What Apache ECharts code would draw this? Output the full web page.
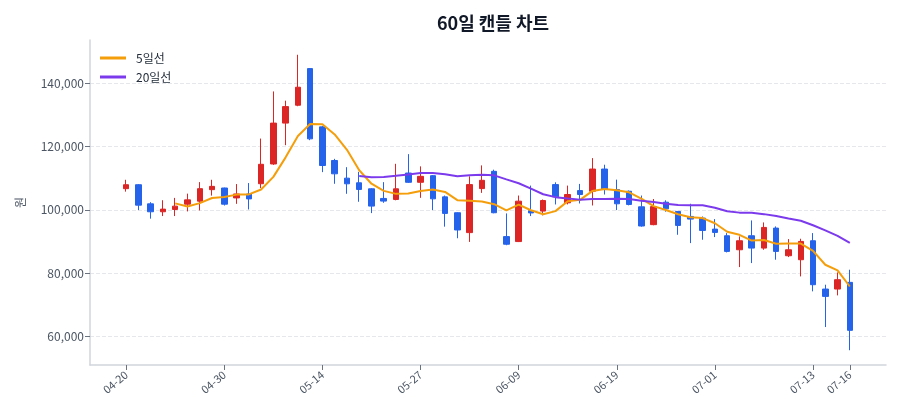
<!DOCTYPE html>
<html>
<head>
<meta charset="utf-8">
<script src="https://cdn.jsdelivr.net/npm/echarts@6/dist/echarts.min.js"></script>
<style>
  html, body { margin: 0; background: #fff; }
  #chart { width: 900px; height: 420px; }
</style>
</head>
<body>
<div id="chart"></div>
<script>
const dates = ['04-20','04-21','04-22','04-23','04-24','04-27','04-28','04-29','04-30',
  '05-04','05-06','05-07','05-08','05-11','05-12','05-13','05-14','05-15','05-18','05-19',
  '05-20','05-21','05-22','05-26','05-27','05-28','05-29','06-01','06-02','06-04','06-05',
  '06-08','06-09','06-10','06-11','06-12','06-15','06-16','06-17','06-18','06-19','06-22',
  '06-23','06-24','06-25','06-26','06-29','06-30','07-01','07-02','07-03','07-06','07-07',
  '07-08','07-09','07-10','07-13','07-14','07-15','07-16'];

const openP = [106670,107920,101880,99370,100100,101770,102710,106360,106880,103750,
  105000,108230,114480,127400,133050,144630,126210,115580,110000,108530,
  106630,103580,103260,111620,108690,110780,104080,99060,92780,106700,
  112150,91520,89950,99700,99580,107960,102200,106070,105860,112880,
  106390,105860,100940,95300,102400,99470,97890,97370,93890,91790,
  87360,91790,87890,94210,85470,84210,90210,74940,74940,77050];
const closeP = [107920,101460,99370,100210,101150,103130,106670,107400,101770,105000,
  103440,114380,127400,132610,138740,122420,114000,111370,108210,106420,
  101160,102740,106630,108690,110570,103460,98850,93610,107960,109320,
  99060,89110,102720,99000,102930,104080,104820,104820,112880,106390,
  101890,101680,94870,101000,100300,95050,97050,93470,92840,86840,
  90210,87890,94420,86840,87360,90000,76310,72620,77890,61890];
const lowP = [105730,99900,97190,98020,98020,99480,99790,104480,101350,101880,
  100100,106880,114200,120420,132740,122000,111900,108210,105050,102530,
  98950,102210,103000,108500,103770,99900,94660,91000,89840,105340,
  98900,88800,89800,98010,98220,101680,101700,101990,101360,104820,
  99900,101400,94660,95100,99400,92100,89470,90520,91370,86520,
  81890,83150,87360,84210,85050,78940,74210,62930,72940,55600];
const highP = [109480,108100,102400,103020,103750,105100,108750,109480,107000,108130,
  108440,122510,137410,134490,149000,144800,126500,116100,113470,112000,
  106800,108740,114530,117590,113720,111000,104500,99200,110570,114030,
  112670,98850,104500,107640,103250,108690,107640,108170,116330,114240,
  109530,106100,104500,103400,103000,99600,101900,97890,97050,92630,
  91580,96630,96000,94740,90730,90840,92630,76310,80200,81050];

const labelIdx = [0, 8, 16, 24, 32, 40, 48, 56, 59];
const yTicks = [60000, 80000, 100000, 120000, 140000];

// 이동평균
function movingAvg(n) {
  const out = [];
  for (let i = n - 1; i < closeP.length; i++) {
    let s = 0;
    for (let j = i - n + 1; j <= i; j++) s += closeP[j];
    out.push([i, s / n]);
  }
  return out;
}

const candles = dates.map((d, i) => [i, openP[i], closeP[i], lowP[i], highP[i]]);
const yLo = Math.min(...lowP), yHi = Math.max(...highP);
const yPad = (yHi - yLo) * 0.05;
const xPad = (dates.length - 1) * 0.05;

const font = "'Noto Sans CJK KR', 'Noto Sans', sans-serif";

const chart = echarts.init(document.getElementById('chart'));
chart.setOption({
  animation: false,
  textStyle: { fontFamily: font },
  title: {
    text: '60일 캔들 차트',
    left: 488,
    textAlign: 'center',
    top: 9,
    textStyle: { fontSize: 18, fontWeight: 'bold', color: '#111827', fontFamily: font }
  },
  legend: {
    orient: 'vertical',
    left: 95,
    top: 47,
    itemGap: 7,
    icon: 'rect',
    itemWidth: 26,
    itemHeight: 3,
    textStyle: { fontSize: 12, color: '#1f2937', padding: [0, 0, 0, 5] },
    data: ['5일선', '20일선']
  },
  grid: { left: 90, right: 14, top: 40, bottom: 55 },
  xAxis: {
    type: 'value',
    min: -xPad,
    max: dates.length - 1 + xPad,
    axisLine: { show: true, onZero: false, lineStyle: { color: '#d1d5db', width: 1.5 } },
    axisTick: { show: true, length: 5, customValues: labelIdx, lineStyle: { color: '#6b7280' } },
    axisLabel: {
      customValues: labelIdx,
      rotate: 40,
      fontSize: 11,
      color: '#4b5563',
      margin: 8,
      formatter: v => dates[v]
    },
    splitLine: { show: false }
  },
  yAxis: {
    type: 'value',
    name: '원',
    nameLocation: 'middle',
    nameGap: 64,
    nameTextStyle: { fontSize: 12, color: '#4b5563' },
    min: yLo - yPad,
    max: yHi + yPad,
    axisLine: { show: true, onZero: false, lineStyle: { color: '#d1d5db', width: 1.5 } },
    axisTick: { show: true, length: 5, customValues: yTicks, lineStyle: { color: '#6b7280' } },
    axisLabel: {
      customValues: yTicks,
      fontSize: 12,
      color: '#4b5563',
      margin: 6,
      formatter: v => v.toLocaleString('en-US')
    },
    splitLine: { show: true, lineStyle: { type: 'dashed', color: '#e5e7eb' } }
  },
  series: [
    {
      name: '캔들',
      type: 'candlestick',
      data: candles,
      encode: { x: 0, y: [1, 2, 3, 4] },
      barWidth: 6,
      itemStyle: {
        color: '#dc2626',
        color0: '#2563eb',
        borderColor: '#dc2626',
        borderColor0: '#2563eb',
        borderWidth: 1
      }
    },
    {
      name: '5일선',
      type: 'line',
      data: movingAvg(5),
      showSymbol: false,
      symbol: 'none',
      lineStyle: { width: 2, color: '#f59e0b' },
      itemStyle: { color: '#f59e0b' }
    },
    {
      name: '20일선',
      type: 'line',
      data: movingAvg(20),
      showSymbol: false,
      symbol: 'none',
      lineStyle: { width: 2, color: '#7c3aed' },
      itemStyle: { color: '#7c3aed' }
    }
  ]
});
window.addEventListener('resize', () => chart.resize());
</script>
</body>
</html>
